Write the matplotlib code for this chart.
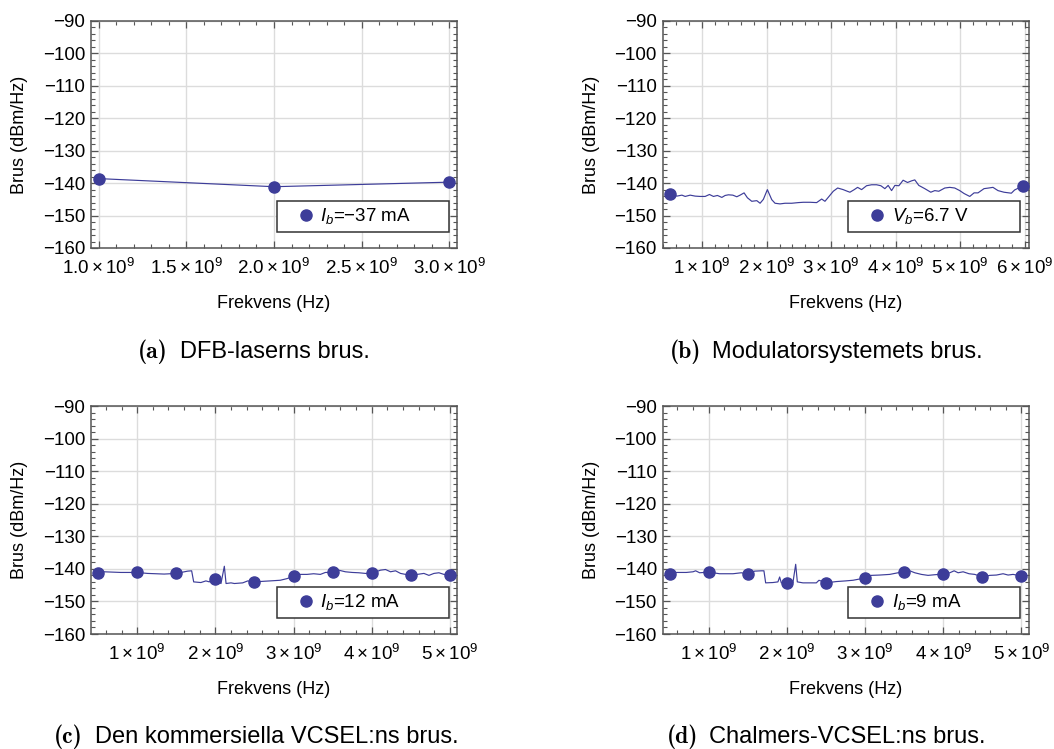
import os
import numpy as np
import matplotlib
matplotlib.use("Agg")
import matplotlib.pyplot as plt
from matplotlib.ticker import MultipleLocator, FuncFormatter
from matplotlib.font_manager import FontProperties

plt.rcParams.update({
    "font.family": ["Liberation Sans", "DejaVu Sans"],
    "mathtext.fontset": "custom",
    "mathtext.rm": "Liberation Sans",
    "mathtext.it": "Liberation Sans:italic",
    "mathtext.bf": "Liberation Sans:bold",
})

# ---------------- data (frequency in GHz, noise in dBm/Hz) ----------------
freq_a = [1.0, 2.0, 3.0]
noise_a = [-138.6, -141.1, -139.7]
markers_a = [1.0, 2.0, 3.0]

freq_b = [0.50, 0.608, 0.686, 0.737, 0.814, 0.892, 0.969, 1.046, 1.113, 1.175,
          1.237, 1.305, 1.356, 1.407, 1.475, 1.537, 1.588, 1.650, 1.701, 1.769,
          1.847, 1.898, 1.949, 2.011, 2.079, 2.130, 2.207, 2.285, 2.389, 2.491,
          2.568, 2.672, 2.775, 2.853, 2.904, 2.971, 3.033, 3.101, 3.187, 3.250,
          3.291, 3.358, 3.410, 3.472, 3.549, 3.627, 3.704, 3.771, 3.833, 3.884,
          3.937, 3.988, 4.050, 4.116, 4.184, 4.246, 4.297, 4.359, 4.452, 4.545,
          4.607, 4.669, 4.762, 4.839, 4.916, 4.994, 5.061, 5.149, 5.216, 5.277,
          5.370, 5.443, 5.509, 5.587, 5.680, 5.794, 5.845, 5.907, 5.970]
noise_b = [-143.3, -144.0, -143.7, -144.1, -143.7, -144.0, -144.1, -144.1, -143.5, -144.1,
           -143.8, -144.4, -143.8, -143.6, -143.7, -144.2, -143.7, -143.0, -144.5, -145.6,
           -145.4, -146.2, -145.0, -142.0, -145.1, -146.2, -146.4, -146.2, -146.2, -146.0,
           -145.9, -145.9, -146.0, -144.9, -145.6, -144.0, -142.5, -141.5, -142.0, -142.5,
           -142.8, -142.0, -141.3, -142.0, -140.8, -140.5, -140.5, -140.8, -141.7, -140.7,
           -142.3, -140.7, -140.8, -139.1, -139.8, -139.3, -139.0, -140.7, -141.7, -142.8,
           -142.3, -142.5, -141.5, -141.3, -141.5, -142.3, -143.2, -144.1, -143.0, -143.0,
           -141.7, -141.5, -141.3, -142.3, -142.8, -143.1, -142.1, -141.5, -141.0]
markers_b = [0.50, 5.970]

freq_c = [0.50, 0.577, 0.790, 1.00, 1.132, 1.346, 1.50, 1.646, 1.697, 1.723,
          1.815, 1.879, 1.923, 1.965, 2.00, 2.072, 2.115, 2.137, 2.200, 2.244,
          2.350, 2.414, 2.50, 2.628, 2.700, 2.830, 2.916, 3.00, 3.086, 3.172,
          3.257, 3.343, 3.407, 3.50, 3.577, 3.663, 3.749, 3.834, 3.920, 4.00,
          4.112, 4.176, 4.240, 4.304, 4.368, 4.432, 4.50, 4.582, 4.667, 4.731,
          4.795, 4.859, 4.923, 5.00]
noise_c = [-141.4, -140.9, -141.1, -141.1, -141.4, -141.6, -141.4, -140.7, -140.6, -144.0,
           -144.2, -143.7, -144.0, -143.0, -143.0, -144.5, -139.2, -144.5, -144.3, -144.5,
           -144.3, -143.7, -144.0, -143.8, -143.7, -143.5, -143.0, -142.3, -141.7, -141.7,
           -141.5, -141.7, -141.1, -141.1, -140.4, -140.9, -141.1, -141.2, -141.4, -141.4,
           -140.4, -140.2, -140.9, -140.6, -141.4, -141.7, -142.0, -141.7, -141.4, -142.0,
           -141.4, -141.2, -141.7, -141.8]
markers_c = [0.5, 1.0, 1.5, 2.0, 2.5, 3.0, 3.5, 4.0, 4.5, 5.0]

freq_d = [0.50, 0.587, 0.715, 0.800, 0.834, 0.885, 1.00, 1.141, 1.311, 1.418,
          1.50, 1.588, 1.674, 1.707, 1.729, 1.822, 1.886, 1.908, 1.929, 2.00,
          2.078, 2.113, 2.134, 2.206, 2.292, 2.377, 2.411, 2.50, 2.633, 2.750,
          2.847, 3.00, 3.081, 3.188, 3.316, 3.422, 3.50, 3.572, 3.636, 3.720,
          3.806, 3.892, 4.00, 4.084, 4.139, 4.190, 4.254, 4.330, 4.403, 4.50,
          4.595, 4.680, 4.765, 4.829, 4.893, 4.957, 5.00]
noise_d = [-141.5, -141.1, -141.1, -140.9, -140.6, -141.2, -141.0, -141.5, -141.5, -141.2,
           -141.6, -140.7, -140.6, -140.6, -144.3, -144.2, -144.0, -142.5, -144.3, -144.2,
           -144.2, -138.6, -144.0, -144.3, -144.3, -144.3, -143.5, -144.3, -143.9, -143.7,
           -143.5, -142.8, -142.0, -141.9, -141.7, -141.2, -140.9, -140.6, -141.2, -141.7,
           -142.0, -141.8, -141.6, -141.2, -140.6, -141.2, -140.9, -141.5, -141.7, -142.5,
           -142.0, -141.9, -141.5, -141.9, -141.7, -142.0, -142.2]
markers_d = [0.5, 1.0, 1.5, 2.0, 2.5, 3.0, 3.5, 4.0, 4.5, 5.0]

legend_labels = [r"$I_b$=−37 mA", r"$V_b$=6.7 V", r"$I_b$=12 mA", r"$I_b$=9 mA"]
captions = ["DFB-laserns brus.", "Modulatorsystemets brus.",
            "Den kommersiella VCSEL:ns brus.", "Chalmers-VCSEL:ns brus."]
caption_tags = ["(a)", "(b)", "(c)", "(d)"]
xlabel = "Frekvens (Hz)"
ylabel = "Brus (dBm/Hz)"

# ---------------- layout ----------------
W, H = 1054, 749
fig = plt.figure(figsize=(W / 100, H / 100), dpi=100)

def px_axes(l, t, r, b):
    return [l / W, 1 - b / H, (r - l) / W, (b - t) / H]

COLOR = (0.24, 0.24, 0.6)
FRAME = "#555555"

panels = [
    dict(rect=(91, 21, 457, 248), f=freq_a, n=noise_a, m=markers_a,
         xlim=(0.955, 3.045), major=0.5, minor=0.1, dec=1),
    dict(rect=(662.5, 21, 1028.5, 248), f=freq_b, n=noise_b, m=markers_b,
         xlim=(0.385, 6.06), major=1.0, minor=0.2, dec=0),
    dict(rect=(91, 406, 457, 634), f=freq_c, n=noise_c, m=markers_c,
         xlim=(0.41, 5.09), major=1.0, minor=0.2, dec=0),
    dict(rect=(662.5, 406, 1028.5, 634), f=freq_d, n=noise_d, m=markers_d,
         xlim=(0.41, 5.09), major=1.0, minor=0.2, dec=0),
]

cmb_path = os.path.join(matplotlib.get_data_path(), "fonts", "ttf", "cmb10.ttf")
cm_bold = FontProperties(fname=cmb_path, size=17)

cap_pos = [(168, 180, 352), (701, 712, 352), (83, 95, 737), (698, 709, 737)]

for i, p in enumerate(panels):
    ax = fig.add_axes(px_axes(*p["rect"]))
    f = np.array(p["f"]) * 1e9
    n = np.array(p["n"])
    mk = np.isin(np.round(np.array(p["f"]), 3), np.round(np.array(p["m"]), 3))
    ax.plot(f, n, color=COLOR, lw=0.85, zorder=3)
    ax.plot(f[mk], n[mk], "o", color=COLOR, ms=8, zorder=4,
            label=legend_labels[i])

    ax.set_xlim(p["xlim"][0] * 1e9, p["xlim"][1] * 1e9)
    ax.set_ylim(-160, -90)
    ax.xaxis.set_major_locator(MultipleLocator(p["major"] * 1e9))
    ax.xaxis.set_minor_locator(MultipleLocator(p["minor"] * 1e9))
    ax.yaxis.set_major_locator(MultipleLocator(10))
    ax.yaxis.set_minor_locator(MultipleLocator(2))
    dec = p["dec"]
    ax.xaxis.set_major_formatter(FuncFormatter(
        lambda v, pos, d=dec: f"${v / 1e9:.{d}f}\\times10^{{9}}$"))
    ax.grid(True, which="major", color="#dcdcdc", lw=1.0)
    ax.set_axisbelow(True)
    ax.tick_params(which="both", direction="in", top=True, right=True,
                   color=FRAME, labelsize=13.5)
    ax.tick_params(which="major", length=5, width=0.9)
    ax.tick_params(which="minor", length=2.7, width=0.8)
    ax.tick_params(axis="x", which="major", pad=7)
    ax.tick_params(axis="y", which="major", pad=4)
    for s in ax.spines.values():
        s.set_color(FRAME)
        s.set_linewidth(1.1)

    leg = ax.legend(loc="lower left", bbox_to_anchor=(0.508, 0.07, 0.47, 0.133),
                    mode="expand", fontsize=13.5, frameon=True, fancybox=False,
                    borderpad=0.3, handlelength=2.5, handletextpad=-0.5,
                    borderaxespad=0, numpoints=1)
    fr = leg.get_frame()
    fr.set_edgecolor("#333333")
    fr.set_linewidth(1.1)
    fr.set_alpha(1)

    l, t, r, b = p["rect"]
    cx = (l + r) / 2
    cy = (t + b) / 2
    fig.text(cx / W, 1 - (b + 56) / H, xlabel, ha="center", va="center", fontsize=13)
    fig.text((l - 71.5) / W, 1 - cy / H, ylabel, ha="center", va="center",
             rotation=90, fontsize=13)

    xr, xl, yc = cap_pos[i]
    fig.text(xr / W, 1 - yc / H, caption_tags[i], ha="right", va="center",
             fontproperties=cm_bold)
    fig.text(xl / W, 1 - yc / H, captions[i], ha="left", va="center", fontsize=17)

fig.savefig("out.png", dpi=100)
